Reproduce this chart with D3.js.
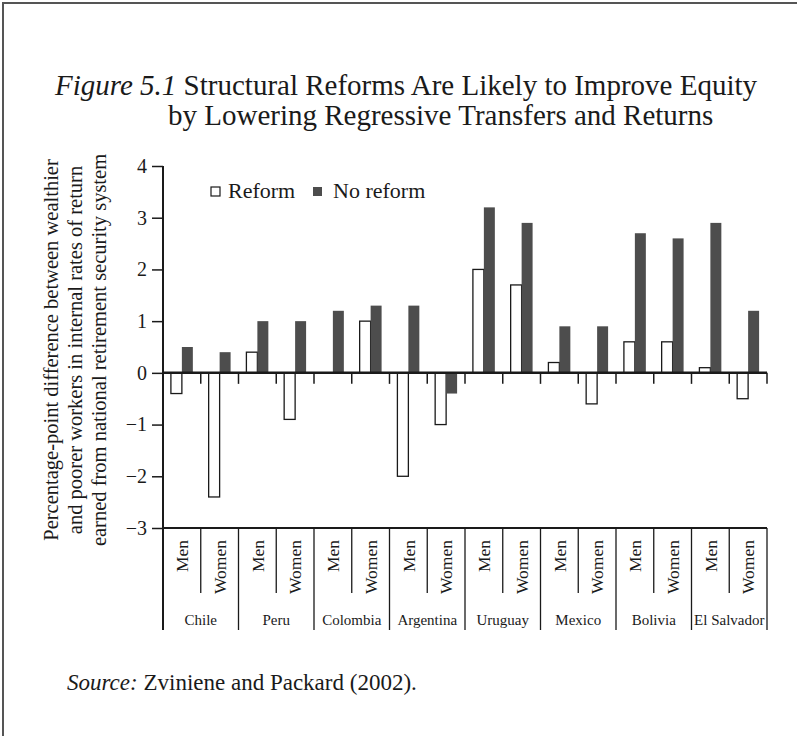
<!DOCTYPE html>
<html>
<head>
<meta charset="utf-8">
<script src="https://cdn.jsdelivr.net/npm/d3@7"></script>
<style>
  body { margin: 0; background: #fff; }
  svg { font-family: "Liberation Serif", "Times New Roman", serif; }
</style>
</head>
<body>
<script>
// data
var countries = ["Chile", "Peru", "Colombia", "Argentina", "Uruguay", "Mexico", "Bolivia", "El Salvador"];
var sexes = ["Men", "Women"];
var series = ["Reform", "No reform"];
// Men, Women for each country in order
var reformValues   = [-0.4, -2.4, 0.4, -0.9, 0.0, 1.0, -2.0, -1.0, 2.0, 1.7, 0.2, -0.6, 0.6, 0.6, 0.1, -0.5];
var noReformValues = [ 0.5,  0.4, 1.0,  1.0, 1.2, 1.3,  1.3, -0.4, 3.2, 2.9, 0.9,  0.9, 2.7, 2.6, 2.9,  1.2];
var yTicks = [-3, -2, -1, 0, 1, 2, 3, 4];
var yLabelLines = [
  "Percentage-point difference between wealthier",
  "and poorer workers in internal rates of return",
  "earned from national retirement security system"
];

var W = 797, H = 736;
var plotLeft = 163, plotRight = 767, plotTop = 166, plotBottom = 528;
var ink = "#1a1a1a";

var svg = d3.select("body").append("svg")
    .attr("width", W)
    .attr("height", H);

// frame (left and top edges show)
svg.append("path")
    .attr("d", "M3," + H + "V3H" + W)
    .attr("fill", "none")
    .attr("stroke", "#555")
    .attr("stroke-width", 2);

// title
var t1 = svg.append("text").attr("x", 55).attr("y", 95).style("font-size", "29px").attr("fill", ink);
t1.append("tspan").style("font-style", "italic").text("Figure 5.1");
t1.append("tspan").text(" Structural Reforms Are Likely to Improve Equity");
svg.append("text").attr("x", 168).attr("y", 125).style("font-size", "29px").attr("fill", ink)
    .text("by Lowering Regressive Transfers and Returns");

// rows
var rows = [];
for (var i = 0; i < countries.length; i++) {
  for (var j = 0; j < sexes.length; j++) {
    var k = i * 2 + j;
    rows.push({key: countries[i] + "|" + sexes[j], country: countries[i], sex: sexes[j],
               vals: [reformValues[k], noReformValues[k]]});
  }
}

var x = d3.scaleBand().domain(rows.map(function(d){ return d.key; })).range([plotLeft, plotRight]);
var xs = d3.scaleBand().domain(series).range([0, x.bandwidth()]).paddingOuter(0.72);
var xc = d3.scaleBand().domain(countries).range([plotLeft, plotRight]);
var y = d3.scaleLinear().domain([-3, 4]).range([plotBottom, plotTop]);

// bars
var groups = svg.selectAll(".grp")
    .data(rows)
    .enter()
    .append("g")
    .attr("class", "grp")
    .attr("transform", function(d){ return "translate(" + x(d.key) + ",0)"; });

groups.selectAll("rect")
    .data(function(d){ return d.vals.map(function(v, i){ return {s: series[i], v: v}; }); })
    .enter()
    .append("rect")
    .attr("x", function(d){ return xs(d.s); })
    .attr("y", function(d){ return y(Math.max(0, d.v)); })
    .attr("width", xs.bandwidth())
    .attr("height", function(d){ return Math.abs(y(d.v) - y(0)); })
    .attr("fill", function(d){ return d.s === "Reform" ? "#fff" : "#4d4d4d"; })
    .attr("stroke", function(d){ return d.s === "Reform" && d.v !== 0 ? ink : "none"; })
    .attr("stroke-width", 1.3);

// y axis
var yAxis = svg.append("g")
    .attr("transform", "translate(" + plotLeft + ",0)")
    .call(d3.axisLeft(y).tickValues(yTicks).tickSize(11).tickPadding(5).tickFormat(d3.format("d")));
yAxis.select(".domain").remove();
yAxis.selectAll(".tick line").attr("stroke", ink).attr("stroke-width", 1.5);
yAxis.selectAll(".tick text")
    .attr("fill", ink)
    .style("font-family", "'Liberation Serif', serif")
    .style("font-size", "20px");

svg.append("line")
    .attr("x1", plotLeft).attr("x2", plotLeft)
    .attr("y1", plotTop).attr("y2", 630)
    .attr("stroke", ink).attr("stroke-width", 2);

// zero line with small ticks between bars
svg.append("line")
    .attr("x1", plotLeft).attr("x2", plotRight)
    .attr("y1", y(0)).attr("y2", y(0))
    .attr("stroke", ink).attr("stroke-width", 2.5);

var bounds = rows.map(function(d){ return x(d.key) + x.bandwidth(); });
svg.selectAll(".zt")
    .data(bounds)
    .enter()
    .append("line")
    .attr("class", "zt")
    .attr("x1", function(d){ return d; }).attr("x2", function(d){ return d; })
    .attr("y1", y(0)).attr("y2", y(0) + 11)
    .attr("stroke", ink).attr("stroke-width", 1.5);

// bottom line = top of category table
svg.append("line")
    .attr("x1", plotLeft).attr("x2", plotRight)
    .attr("y1", plotBottom).attr("y2", plotBottom)
    .attr("stroke", ink).attr("stroke-width", 2);

// separators in the category table
svg.selectAll(".sep")
    .data(rows)
    .enter()
    .append("line")
    .attr("class", "sep")
    .attr("x1", function(d){ return x(d.key) + x.bandwidth(); })
    .attr("x2", function(d){ return x(d.key) + x.bandwidth(); })
    .attr("y1", plotBottom)
    .attr("y2", function(d){ return d.sex === "Men" ? 593 : 630; })
    .attr("stroke", ink).attr("stroke-width", 1.3);

// Men / Women labels
svg.selectAll(".sx")
    .data(rows)
    .enter()
    .append("text")
    .attr("class", "sx")
    .attr("transform", function(d){ return "translate(" + (x(d.key) + x.bandwidth() / 2) + ",540) rotate(-90)"; })
    .attr("dy", "0.35em")
    .attr("text-anchor", "end")
    .style("font-size", "17.5px")
    .attr("fill", ink)
    .text(function(d){ return d.sex; });

// country labels
svg.selectAll(".cn")
    .data(countries)
    .enter()
    .append("text")
    .attr("class", "cn")
    .attr("x", function(d){ return xc(d) + xc.bandwidth() / 2; })
    .attr("y", 625)
    .attr("text-anchor", "middle")
    .style("font-size", "15px")
    .attr("fill", ink)
    .text(function(d){ return d; });

// y axis title
svg.selectAll(".yl")
    .data(yLabelLines)
    .enter()
    .append("text")
    .attr("class", "yl")
    .attr("transform", function(d, i){ return "translate(" + (58 + i * 24) + ",350) rotate(-90)"; })
    .attr("text-anchor", "middle")
    .style("font-size", "20.5px")
    .attr("fill", ink)
    .text(function(d){ return d; });

// legend
var legendX = [211, 313];
var lg = svg.selectAll(".lg")
    .data(series)
    .enter()
    .append("g")
    .attr("class", "lg")
    .attr("transform", function(d, i){ return "translate(" + legendX[i] + ",187)"; });
lg.append("rect")
    .attr("width", 9).attr("height", 9)
    .attr("fill", function(d){ return d === "Reform" ? "#fff" : "#4d4d4d"; })
    .attr("stroke", function(d){ return d === "Reform" ? ink : "none"; })
    .attr("stroke-width", 1.2);
lg.append("text")
    .attr("x", function(d, i){ return i === 0 ? 17 : 20; })
    .attr("y", 11)
    .style("font-size", "22px")
    .attr("fill", ink)
    .text(function(d){ return d; });

// source
var src = svg.append("text").attr("x", 67).attr("y", 690).style("font-size", "23px").attr("fill", ink);
src.append("tspan").style("font-style", "italic").text("Source:");
src.append("tspan").text(" Zviniene and Packard (2002).");
</script>
</body>
</html>
